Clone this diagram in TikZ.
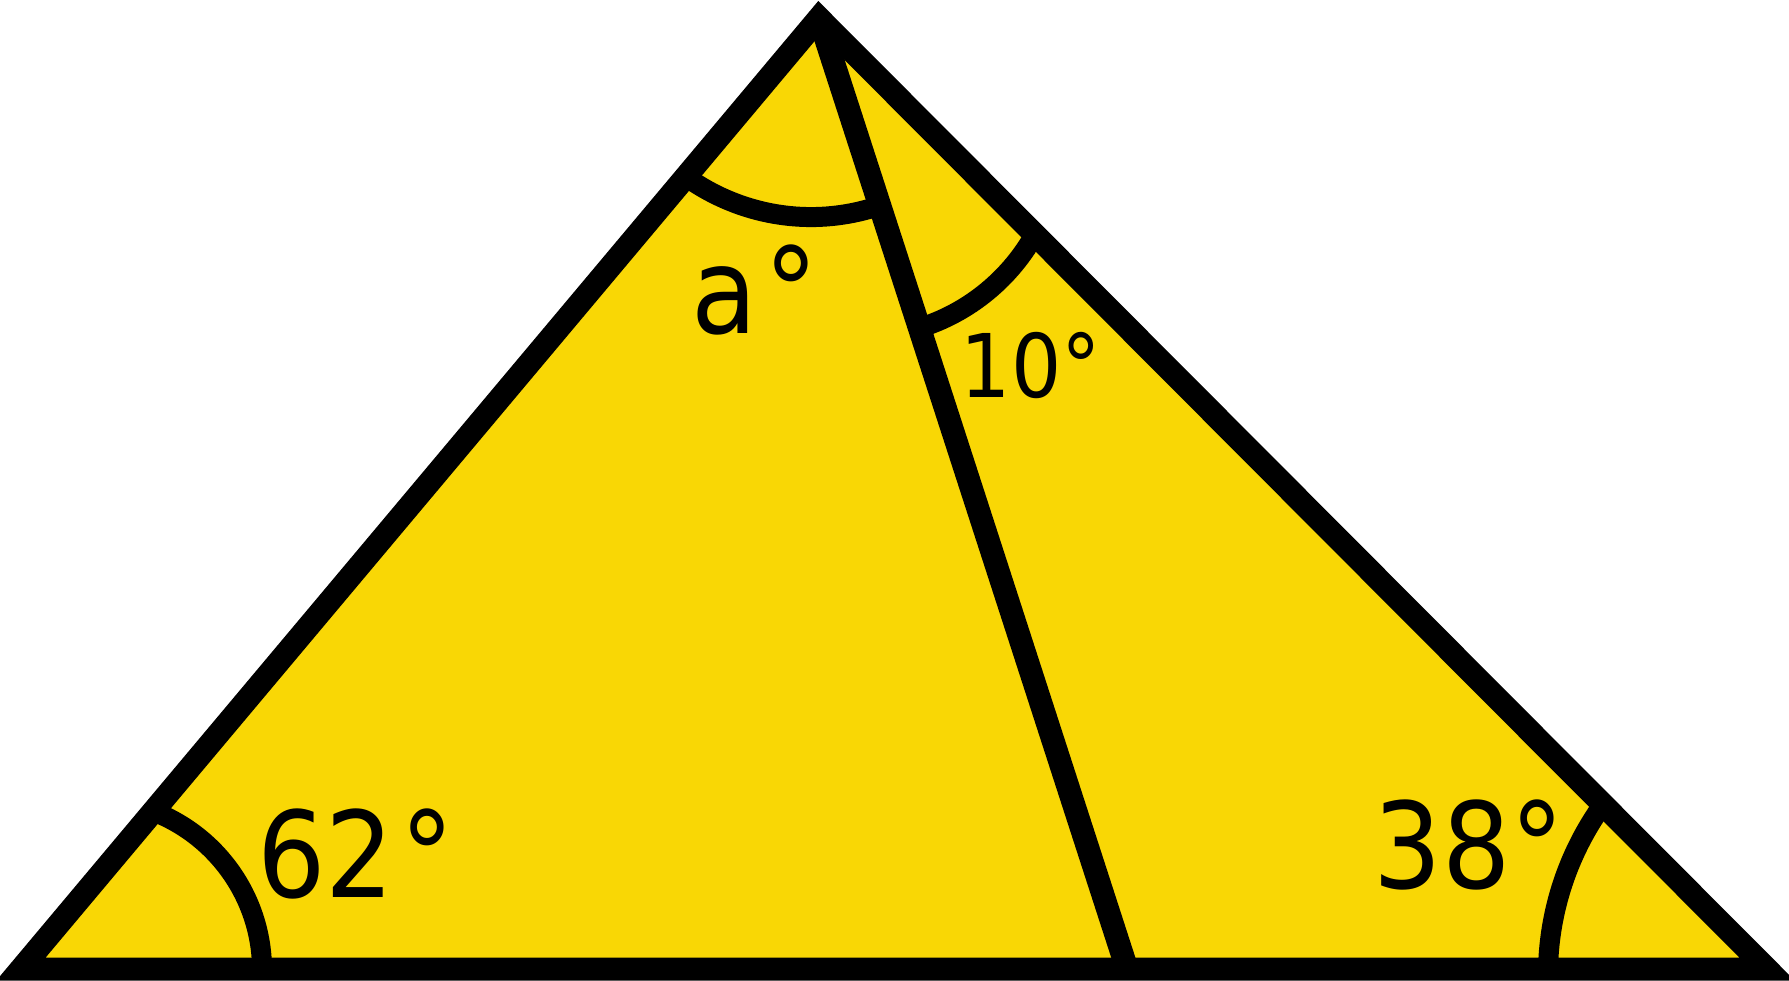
\documentclass[tikz,border=0pt]{standalone}
\usepackage{fontspec}
\newfontfamily\anglefont{DejaVu Sans Condensed}
\definecolor{pyryellow}{RGB}{249,215,5}
\tikzset{
    side/.style={line width=2.3mm, line join=miter},
    anglearc/.style={line width=2mm},
    anglelabel/.style={font=\anglefont\fontsize{34}{34}\selectfont, inner sep=0pt, anchor=base},
}

\begin{document}
\begin{tikzpicture}
    \useasboundingbox (0,0) rectangle (17.89,9.80);
    \coordinate (A) at (0.21,0.11);
    \coordinate (B) at (8.19,9.62);
    \coordinate (C) at (17.67,0.11);
    \coordinate (D) at (11.27,0.11);

    \fill[pyryellow] (A) -- (B) -- (C) -- cycle;

    \begin{scope}
        \clip (A) -- (B) -- (D) -- cycle;
        \draw[anglearc] (0.92,0.10) ++(-10:1.70) arc[start angle=-10, end angle=80, radius=1.70];
        \draw[anglearc] (8.11,9.77) ++(200:2.14) arc[start angle=200, end angle=340, radius=2.14];
    \end{scope}
    \begin{scope}
        \clip (D) -- (B) -- (C) -- cycle;
        \draw[anglearc] (8.60,8.43) ++(180:2.00) arc[start angle=180, end angle=360, radius=2.00];
        \draw[anglearc] (18.40,0.05) ++(110:2.92) arc[start angle=110, end angle=190, radius=2.92];
    \end{scope}

    \draw[side] (A) -- (B) -- (C) -- cycle;
    \draw[side] (B) -- (D);

    \node[anglelabel] (lbl62) at (3.56,0.83) {62\kern0.06em°};
    \node[anglelabel] (lbl38) at (14.69,0.92) {38°};
    \node[anglelabel, font=\anglefont\fontsize{25}{25}\selectfont] (lbl10) at (10.31,5.83) {10°};
    \node[anglelabel] (lbla) at (7.55,6.47) {a\kern0.06em°};
\end{tikzpicture}
\end{document}
